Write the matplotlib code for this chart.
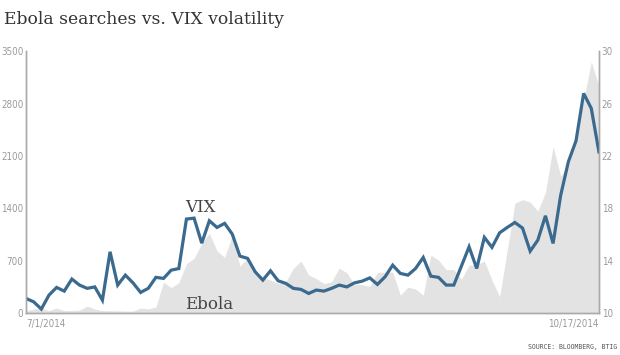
import matplotlib
matplotlib.use("Agg")
import matplotlib.pyplot as plt

# daily points, 7/1/2014 .. 10/17/2014
vix = [11.12, 10.86, 10.31, 11.37, 11.96, 11.68, 12.60, 12.14, 11.89, 12.00,
       10.99, 14.68, 12.14, 12.90, 12.31, 11.58, 11.89, 12.73, 12.65, 13.28,
       13.40, 17.18, 17.25, 15.34, 17.05, 16.54, 16.85, 16.03, 14.35, 14.18,
       13.15, 12.52, 13.23, 12.47, 12.27, 11.89, 11.81, 11.50, 11.76, 11.68,
       11.89, 12.14, 12.00, 12.31, 12.44, 12.69, 12.19, 12.77, 13.66, 13.03,
       12.90, 13.41, 14.25, 12.82, 12.73, 12.14, 12.14, 13.59, 15.06, 13.41,
       15.78, 15.02, 16.13, 16.54, 16.92, 16.49, 14.73, 15.57, 17.43, 15.32,
       19.01, 21.55, 23.15, 26.77, 25.63, 22.31]

ebola = [31, 53, 67, 33, 67, 33, 33, 40, 94, 53,
         33, 31, 31, 27, 27, 67, 57, 80, 414, 340,
         405, 661, 731, 931, 1065, 832, 744, 1042, 628, 731,
         574, 472, 441, 397, 418, 597, 695, 508, 461, 394,
         418, 601, 538, 381, 381, 354, 544, 544, 548, 240,
         347, 321, 240, 775, 708, 581, 581, 454, 641, 648,
         695, 441, 218, 842, 1470, 1516, 1483, 1363, 1610, 2224,
         1830, 1964, 2318, 2846, 3357, 3033]

x_labels = ["7/1/2014", "10/17/2014"]
left_ticks = [0, 700, 1400, 2100, 2800, 3500]
right_ticks = [10, 14, 18, 22, 26, 30]

gray = "#aaaaaa"
x = list(range(len(vix)))

fig = plt.figure(figsize=(6.2, 3.55), dpi=100)
ax = fig.add_axes([0.042, 0.118, 0.924, 0.738])
ax.fill_between(x, ebola, 0, color="#e3e3e3", linewidth=0)
ax.set_xlim(0, len(x) - 1)
ax.set_ylim(0, 3500)
ax.set_yticks(left_ticks)
ax.set_yticks([3500], minor=True)
ax.set_xticks([0, len(x) - 1])
ax.set_xticklabels(x_labels)
ax.get_xticklabels()[0].set_ha("left")
ax.get_xticklabels()[1].set_ha("right")

ax2 = ax.twinx()
ax2.plot(x, vix, color="#3b6a8f", linewidth=2.3, solid_joinstyle="miter")
ax2.set_ylim(10, 30)
ax2.set_yticks(right_ticks)
ax2.set_yticks([30], minor=True)

for a in (ax, ax2):
    for s in a.spines.values():
        s.set_color(gray)
        s.set_linewidth(1)
    a.spines["top"].set_visible(False)
    a.tick_params(which="major", length=0, labelsize=7, labelcolor="#9a9a9a", pad=2)
    a.tick_params(which="minor", length=6, direction="inout", color=gray, width=1)
    for t in a.get_xticklabels() + a.get_yticklabels():
        t.set_family("DejaVu Sans")
        t.set_stretch("condensed")

ax.tick_params(axis="x", pad=4)

fig.text(0.006, 0.945, "Ebola searches vs. VIX volatility", family="DejaVu Serif",
         fontsize=12.3, color="#333333", va="center")
ax.text(20.8, 1350, "VIX", family="DejaVu Serif", fontsize=12, color="#444444")
ax.text(20.8, 55, "Ebola", family="DejaVu Serif", fontsize=12, color="#444444")
fig.text(0.995, 0.018, "SOURCE: BLOOMBERG, BTIG", family="DejaVu Sans Mono",
         fontsize=4.7, color="#555555", ha="right")

fig.savefig("out.png", dpi=100)
